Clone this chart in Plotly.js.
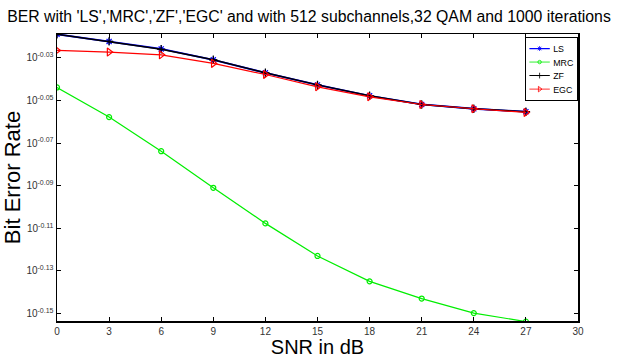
<!DOCTYPE html>
<html>
<head>
<meta charset="utf-8">
<script src="https://cdn.plot.ly/plotly-3.0.1.min.js"></script>
<style>html,body{margin:0;padding:0;background:#fff;}#chart{width:618px;height:358px;}</style>
</head>
<body>
<div id="chart"></div>
<script>
// SNR values (dB)
const snr = [0, 3, 6, 9, 12, 15, 18, 21, 24, 27];
// Bit error rate per method
const berLS  = [0.9574, 0.9500, 0.9423, 0.9313, 0.9183, 0.9064, 0.8958, 0.8874, 0.8833, 0.8805];
const berMRC = [0.9039, 0.8754, 0.8437, 0.8110, 0.7804, 0.7534, 0.7330, 0.7195, 0.7083, 0.7018];
const berZF  = [0.9574, 0.9500, 0.9420, 0.9313, 0.9183, 0.9064, 0.8958, 0.8874, 0.8833, 0.8805];
const berEGC = [0.9408, 0.9391, 0.9363, 0.9277, 0.9166, 0.9045, 0.8948, 0.8874, 0.8833, 0.8798];
// y tick exponents and labels
const yTickExp = [-0.03, -0.05, -0.07, -0.09, -0.11, -0.13, -0.15];
const yTickText = ['10<sup>-0.03</sup>', '10<sup>-0.05</sup>', '10<sup>-0.07</sup>', '10<sup>-0.09</sup>', '10<sup>-0.11</sup>', '10<sup>-0.13</sup>', '10<sup>-0.15</sup>'];
const xTicks = [0, 3, 6, 9, 12, 15, 18, 21, 24, 27, 30];

const traces = [
  {x: snr, y: berLS, name: 'LS', mode: 'lines+markers', line: {color: '#0000ff', width: 1.8},
   marker: {symbol: 'asterisk-open', size: 6, color: '#0000ff', line: {color: '#0000ff', width: 1.2}}},
  {x: snr, y: berMRC, name: 'MRC', mode: 'lines+markers', line: {color: '#00ee00', width: 1.2},
   marker: {symbol: 'circle-open', size: 5, color: '#00ee00', line: {color: '#00ee00', width: 1.2}}},
  {x: snr, y: berZF, name: 'ZF', mode: 'lines+markers', line: {color: '#000000', width: 1.5},
   marker: {symbol: 'cross-thin-open', size: 6, color: '#000000', line: {color: '#000000', width: 1.2}}},
  {x: snr, y: berEGC, name: 'EGC', mode: 'lines+markers', line: {color: '#ff0000', width: 1.2},
   marker: {symbol: 'triangle-right-open', size: 7, color: '#ff0000', line: {color: '#ff0000', width: 1.2}}}
];

const layout = {
  width: 618, height: 358,
  margin: {l: 57, r: 40, t: 34, b: 37},
  paper_bgcolor: '#ffffff', plot_bgcolor: '#ffffff',
  font: {family: 'Liberation Sans, Arial, sans-serif', color: '#000'},
  title: {text: "BER with 'LS','MRC','ZF','EGC' and with 512 subchannels,32 QAM and 1000 iterations",
          font: {size: 15.8, color: '#000'}, x: 0.5, xanchor: 'center', y: 0.953, yanchor: 'middle'},
  xaxis: {
    range: [0, 30], tickvals: xTicks, ticktext: xTicks.map(String),
    ticks: 'inside', ticklen: 4, tickwidth: 1, tickcolor: '#000',
    showline: true, linecolor: '#000', linewidth: 1.5, mirror: 'ticks',
    showgrid: false, zeroline: false,
    tickfont: {size: 10, color: '#333'},
    title: {text: 'SNR in dB', font: {size: 20, color: '#000'}, standoff: 2}
  },
  yaxis: {
    type: 'log', range: [-0.1535, -0.0188],
    tickvals: yTickExp.map(e => Math.pow(10, e)), ticktext: yTickText,
    ticks: 'inside', ticklen: 4, tickwidth: 1, tickcolor: '#000',
    showline: true, linecolor: '#000', linewidth: 1.5, mirror: 'ticks',
    showgrid: false, zeroline: false,
    tickfont: {size: 10, color: '#333'},
    title: {text: 'Bit Error Rate', font: {size: 22, color: '#000'}, standoff: 4}
  },
  legend: {
    x: 0.9975, xanchor: 'right', y: 0.99, yanchor: 'top',
    bgcolor: '#ffffff', bordercolor: '#000', borderwidth: 2,
    font: {size: 13, color: '#000'}, tracegroupgap: 0, itemwidth: 30
  },
  showlegend: true
};

Plotly.newPlot('chart', traces, layout, {displayModeBar: false, staticPlot: true}).then(gd => {
  const lg = gd.querySelector('g.legend');
  const bg = lg && lg.querySelector('rect.bg');
  if (!lg || !bg) return;
  const s = 0.68;
  const w = parseFloat(bg.getAttribute('width'));
  const right = 577, top = 37;
  lg.setAttribute('transform', 'translate(' + (right - w * s) + ',' + top + ') scale(' + s + ')');
});
</script>
</body>
</html>
